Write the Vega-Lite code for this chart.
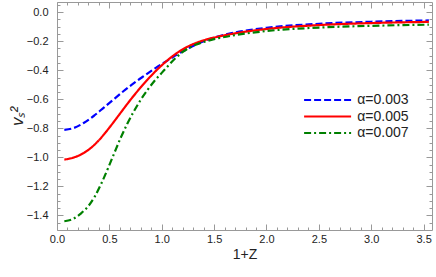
{
  "$schema": "https://vega.github.io/schema/vega-lite/v6.json",
  "width": 375,
  "height": 228,
  "autosize": "none",
  "padding": {"left": 57, "top": 2, "right": 4, "bottom": 47},
  "background": "white",
  "config": {
    "view": {"stroke": "#999999", "strokeWidth": 1},
    "font": "Liberation Sans",
    "axis": {"grid": false, "domain": false, "labelFlush": false, "tickColor": "#999999", "labelColor": "#222222", "labelFontSize": 11, "titleFontSize": 14, "titleFontWeight": "normal", "titleColor": "#222222"},
    "legend": {"orient": "none", "legendX": 263.6, "legendY": 91, "title": null, "symbolType": "M-4,0H4", "symbolSize": 138, "symbolStrokeWidth": 2.2, "labelFontSize": 14, "labelColor": "#222222", "rowPadding": 2.5, "labelOffset": 22.6, "padding": 0}
  },
  "data": {"values": [
    {"a": "α=0.003", "x": 0.07, "y": -0.81},
    {"a": "α=0.003", "x": 0.15, "y": -0.8},
    {"a": "α=0.003", "x": 0.25, "y": -0.765},
    {"a": "α=0.003", "x": 0.35, "y": -0.715},
    {"a": "α=0.003", "x": 0.45, "y": -0.655},
    {"a": "α=0.003", "x": 0.55, "y": -0.595},
    {"a": "α=0.003", "x": 0.65, "y": -0.535},
    {"a": "α=0.003", "x": 0.75, "y": -0.48},
    {"a": "α=0.003", "x": 0.85, "y": -0.43},
    {"a": "α=0.003", "x": 0.95, "y": -0.38},
    {"a": "α=0.003", "x": 1.05, "y": -0.335},
    {"a": "α=0.003", "x": 1.15, "y": -0.29},
    {"a": "α=0.003", "x": 1.25, "y": -0.25},
    {"a": "α=0.003", "x": 1.35, "y": -0.215},
    {"a": "α=0.003", "x": 1.5, "y": -0.175},
    {"a": "α=0.003", "x": 1.7, "y": -0.14},
    {"a": "α=0.003", "x": 2.0, "y": -0.108},
    {"a": "α=0.003", "x": 2.5, "y": -0.08},
    {"a": "α=0.003", "x": 3.0, "y": -0.066},
    {"a": "α=0.003", "x": 3.55, "y": -0.057},
    {"a": "α=0.005", "x": 0.07, "y": -1.015},
    {"a": "α=0.005", "x": 0.15, "y": -1.003},
    {"a": "α=0.005", "x": 0.2, "y": -0.99},
    {"a": "α=0.005", "x": 0.25, "y": -0.972},
    {"a": "α=0.005", "x": 0.3, "y": -0.948},
    {"a": "α=0.005", "x": 0.35, "y": -0.918},
    {"a": "α=0.005", "x": 0.4, "y": -0.882},
    {"a": "α=0.005", "x": 0.45, "y": -0.84},
    {"a": "α=0.005", "x": 0.5, "y": -0.795},
    {"a": "α=0.005", "x": 0.55, "y": -0.748},
    {"a": "α=0.005", "x": 0.6, "y": -0.7},
    {"a": "α=0.005", "x": 0.65, "y": -0.652},
    {"a": "α=0.005", "x": 0.7, "y": -0.605},
    {"a": "α=0.005", "x": 0.75, "y": -0.56},
    {"a": "α=0.005", "x": 0.8, "y": -0.517},
    {"a": "α=0.005", "x": 0.85, "y": -0.476},
    {"a": "α=0.005", "x": 0.9, "y": -0.437},
    {"a": "α=0.005", "x": 0.95, "y": -0.4},
    {"a": "α=0.005", "x": 1.0, "y": -0.366},
    {"a": "α=0.005", "x": 1.1, "y": -0.305},
    {"a": "α=0.005", "x": 1.2, "y": -0.256},
    {"a": "α=0.005", "x": 1.3, "y": -0.22},
    {"a": "α=0.005", "x": 1.4, "y": -0.194},
    {"a": "α=0.005", "x": 1.5, "y": -0.175},
    {"a": "α=0.005", "x": 1.7, "y": -0.146},
    {"a": "α=0.005", "x": 2.0, "y": -0.116},
    {"a": "α=0.005", "x": 2.5, "y": -0.089},
    {"a": "α=0.005", "x": 3.0, "y": -0.075},
    {"a": "α=0.005", "x": 3.55, "y": -0.067},
    {"a": "α=0.007", "x": 0.07, "y": -1.44},
    {"a": "α=0.007", "x": 0.15, "y": -1.425},
    {"a": "α=0.007", "x": 0.23, "y": -1.385},
    {"a": "α=0.007", "x": 0.3, "y": -1.335},
    {"a": "α=0.007", "x": 0.36, "y": -1.27},
    {"a": "α=0.007", "x": 0.42, "y": -1.185},
    {"a": "α=0.007", "x": 0.49, "y": -1.07},
    {"a": "α=0.007", "x": 0.55, "y": -0.965},
    {"a": "α=0.007", "x": 0.61, "y": -0.862},
    {"a": "α=0.007", "x": 0.67, "y": -0.77},
    {"a": "α=0.007", "x": 0.74, "y": -0.675},
    {"a": "α=0.007", "x": 0.8, "y": -0.603},
    {"a": "α=0.007", "x": 0.87, "y": -0.53},
    {"a": "α=0.007", "x": 0.93, "y": -0.474},
    {"a": "α=0.007", "x": 1.0, "y": -0.418},
    {"a": "α=0.007", "x": 1.06, "y": -0.37},
    {"a": "α=0.007", "x": 1.12, "y": -0.324},
    {"a": "α=0.007", "x": 1.2, "y": -0.274},
    {"a": "α=0.007", "x": 1.3, "y": -0.232},
    {"a": "α=0.007", "x": 1.4, "y": -0.205},
    {"a": "α=0.007", "x": 1.5, "y": -0.186},
    {"a": "α=0.007", "x": 1.7, "y": -0.158},
    {"a": "α=0.007", "x": 2.0, "y": -0.13},
    {"a": "α=0.007", "x": 2.5, "y": -0.106},
    {"a": "α=0.007", "x": 3.0, "y": -0.094},
    {"a": "α=0.007", "x": 3.55, "y": -0.086}
  ]},
  "resolve": {"scale": {"x": "shared", "y": "shared"}, "axis": {"x": "independent", "y": "independent"}},
  "layer": [
    {
      "mark": {"type": "line", "strokeWidth": 2.2, "interpolate": "monotone", "clip": true},
      "encoding": {
        "x": {"field": "x", "type": "quantitative", "scale": {"domain": [0, 3.58], "nice": false, "zero": false},
          "axis": {"orient": "bottom", "values": [0, 0.5, 1, 1.5, 2, 2.5, 3, 3.5], "format": ".1f", "tickSize": -6, "labelPadding": 9, "title": "1+Z", "titlePadding": 3}},
        "y": {"field": "y", "type": "quantitative", "scale": {"domain": [-1.5, 0.07], "nice": false, "zero": false},
          "axis": {"orient": "left", "values": [-1.4, -1.2, -1.0, -0.8, -0.6, -0.4, -0.2, 0], "format": ".1f", "tickSize": -6, "labelPadding": 15, "title": "vₛ²", "titleFontStyle": "italic", "titleFontSize": 17, "titlePadding": 0}},
        "color": {"field": "a", "type": "nominal", "scale": {"domain": ["α=0.003", "α=0.005", "α=0.007"], "range": ["#0000ff", "#ff0000", "#008000"]}},
        "strokeDash": {"field": "a", "type": "nominal", "scale": {"domain": ["α=0.003", "α=0.005", "α=0.007"], "range": [[7, 3], [1, 0], [7, 3, 2, 3]]}}
      }
    },
    {
      "mark": {"type": "line", "opacity": 0},
      "encoding": {
        "x": {"field": "x", "type": "quantitative", "axis": {"orient": "bottom", "values": [0.1,0.2,0.3,0.4,0.6,0.7,0.8,0.9,1.1,1.2,1.3,1.4,1.6,1.7,1.8,1.9,2.1,2.2,2.3,2.4,2.6,2.7,2.8,2.9,3.1,3.2,3.3,3.4], "tickSize": -3, "labels": false, "title": null}},
        "y": {"field": "y", "type": "quantitative", "axis": {"orient": "left", "values": [-1.45,-1.35,-1.3,-1.25,-1.15,-1.1,-1.05,-0.95,-0.9,-0.85,-0.75,-0.7,-0.65,-0.55,-0.5,-0.45,-0.35,-0.3,-0.25,-0.15,-0.1,-0.05,0.05], "tickSize": -3, "labels": false, "title": null}},
        "detail": {"field": "a"}
      }
    },
    {
      "mark": {"type": "line", "opacity": 0},
      "encoding": {
        "x": {"field": "x", "type": "quantitative", "axis": {"orient": "top", "values": [0, 0.5, 1, 1.5, 2, 2.5, 3, 3.5], "tickSize": -6, "labels": false, "title": null}},
        "y": {"field": "y", "type": "quantitative", "axis": {"orient": "right", "values": [-1.4, -1.2, -1.0, -0.8, -0.6, -0.4, -0.2, 0], "tickSize": -6, "labels": false, "title": null}},
        "detail": {"field": "a"}
      }
    },
    {
      "mark": {"type": "line", "opacity": 0},
      "encoding": {
        "x": {"field": "x", "type": "quantitative", "axis": {"orient": "top", "values": [0.1,0.2,0.3,0.4,0.6,0.7,0.8,0.9,1.1,1.2,1.3,1.4,1.6,1.7,1.8,1.9,2.1,2.2,2.3,2.4,2.6,2.7,2.8,2.9,3.1,3.2,3.3,3.4], "tickSize": -3, "labels": false, "title": null}},
        "y": {"field": "y", "type": "quantitative", "axis": {"orient": "right", "values": [-1.45,-1.35,-1.3,-1.25,-1.15,-1.1,-1.05,-0.95,-0.9,-0.85,-0.75,-0.7,-0.65,-0.55,-0.5,-0.45,-0.35,-0.3,-0.25,-0.15,-0.1,-0.05,0.05], "tickSize": -3, "labels": false, "title": null}},
        "detail": {"field": "a"}
      }
    }
  ]
}
